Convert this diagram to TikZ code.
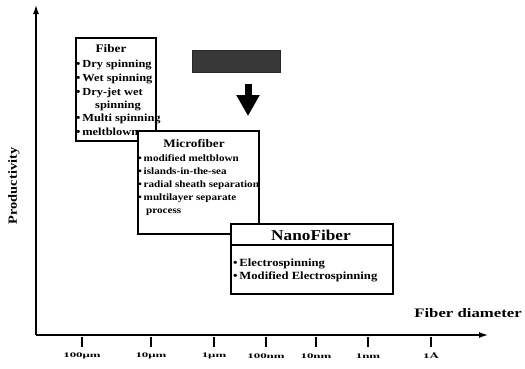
\documentclass[tikz,border=0pt]{standalone}
\usepackage{fontspec}
\setmainfont{Liberation Serif}[FakeStretch=1.15]
\usetikzlibrary{arrows.meta}
\begin{document}
\begin{tikzpicture}[x=1pt,y=-1pt,
  box/.style={draw, line width=1.7pt, fill=white, inner sep=0pt, anchor=north west},
  item/.style={anchor=base west, font=\bfseries\fontsize{9.7}{11}\selectfont, inner sep=0pt},
  fitem/.style={item, font=\bfseries\fontsize{10.8}{12}\selectfont},
  ttl/.style={anchor=base, font=\bfseries\fontsize{11.5}{13}\selectfont, inner sep=0pt},
  tlab/.style={font=\bfseries\fontsize{7}{8}\selectfont, inner sep=0pt, xscale=1.6},
  axis/.style={line width=1.2pt, -{Latex[length=9pt,width=6pt]}},
  tick/.style={line width=1.1pt}]
\useasboundingbox (0,0) rectangle (525,368);
% axes
\coordinate (o) at (36,335);
\coordinate (ytip) at (36,5);
\coordinate (xtip) at (488,335);
\draw[axis] (o) -- (ytip);
\draw[axis] (o) -- (xtip);
\node[font=\bfseries\fontsize{12.5}{14}\selectfont, rotate=90] (ylab) at (14,186) {Productivity};
\node[font=\bfseries\fontsize{13}{15}\selectfont, xscale=1.12] (xlab) at (468,313) {Fiber diameter};
% ticks
\foreach \x/\l [count=\i] in {82/100μm,151/10μm,214/1μm,266/100nm,316/10nm,368/1nm,431/1Å}{
  \coordinate (ta\i) at (\x,337);
  \coordinate (tb\i) at (\x,347);
  \draw[tick] (ta\i) -- (tb\i);
  \node[tlab] (tl\i) at (\x,356) {\l};
}
% gray box and arrow
\node[box, draw=black!85, fill=black!78, line width=0.6pt, minimum width=88pt, minimum height=22pt] (gray) at (192,50) {};
\coordinate (as) at (248,84);
\coordinate (ae) at (248,116);
\draw[line width=7pt, -{Triangle[length=21pt,width=22pt]}] (as) -- (ae);
% Fiber box
\node[box, minimum width=80pt, minimum height=103pt] (fiber) at (75,37) {};
\node[ttl] (ft) at (111,52) {Fiber};
\node[fitem] (f1) at (76,67) {\textbullet\,Dry spinning};
\node[fitem] (f2) at (76,81) {\textbullet\,Wet spinning};
\node[fitem] (f3) at (76,95) {\textbullet\,Dry-jet wet};
\node[fitem] (f3b) at (95,108) {spinning};
\node[fitem] (f4) at (76,121) {\textbullet\,Multi spinning};
\node[fitem] (f5) at (76,135) {\textbullet\,meltblown};
% Microfiber box
\node[box, minimum width=121pt, minimum height=103pt] (micro) at (137,130) {};
\node[ttl] (mt) at (194,147) {Microfiber};
\node[item] (m1) at (138,161) {\textbullet\,modified meltblown};
\node[item] (m2) at (138,174) {\textbullet\,islands-in-the-sea};
\node[item] (m3) at (138,187) {\textbullet\,radial sheath separation};
\node[item] (m4) at (138,200) {\textbullet\,multilayer separate};
\node[item] (m4b) at (146,213) {process};
% NanoFiber box
\node[box, minimum width=162pt, minimum height=70pt] (nano) at (230,223) {};
\coordinate (sl) at (230,245);
\coordinate (sr) at (392,245);
\draw[line width=1.3pt] (sl) -- (sr);
\node[ttl, font=\bfseries\fontsize{15}{17}\selectfont] (nt) at (311,240) {NanoFiber};
\node[item, font=\bfseries\fontsize{11}{12}\selectfont] (n1) at (233,266) {\textbullet\,Electrospinning};
\node[item, font=\bfseries\fontsize{11}{12}\selectfont] (n2) at (233,279) {\textbullet\,Modified Electrospinning};
\end{tikzpicture}
\end{document}
